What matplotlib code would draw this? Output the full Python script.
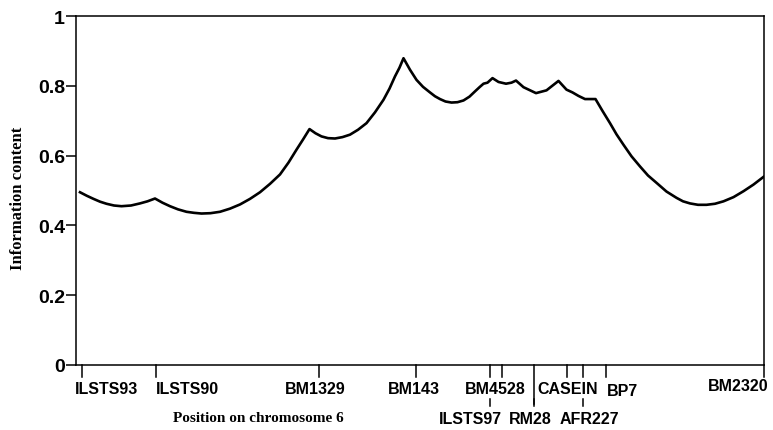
import matplotlib.pyplot as plt

# ───────────────────────────── data ─────────────────────────────
# marker positions along chromosome 6 (cM-like units, ILSTS93 = 0)
MARKERS = ["ILSTS93", "ILSTS90", "BM1329", "BM143", "ILSTS97", "BM4528",
           "RM28", "CASEIN", "AFR227", "BP7", "BM2320"]
MARKER_POS = [0.0, 14.8, 47.4, 66.8, 81.6, 84.0, 90.4, 97.0, 100.2, 104.8, 136.4]
MARKER_ROW = [1, 1, 1, 1, 2, 1, 2, 1, 2, 1, 1]   # label row under the axis

# information content curve
POS = [-0.4, 0.95, 2.3, 3.6, 4.9, 6.4, 7.9, 9.8, 11.6, 13.1, 14.6,
       16.1, 17.6, 19.2, 20.9, 22.4, 23.9, 25.7, 27.6, 29.6, 31.6, 33.6, 35.6,
       37.6, 39.6, 41.3, 42.9, 44.2, 45.5,
       46.7, 47.9, 49.2, 50.6, 52.1, 53.6, 55.2, 56.9, 58.6, 60.3, 61.5, 62.6,
       63.5, 64.3,
       65.6, 66.9, 68.2, 69.6, 70.6, 71.6, 72.7, 73.9, 75.1, 76.3, 77.5, 78.6,
       79.5, 80.3, 81.1, 82.1,
       83.3, 84.8, 85.9, 86.8,
       88.3, 90.8, 92.9, 95.3,
       96.9, 98.1, 99.3, 100.6, 102.7,
       104.1, 105.6, 106.9, 108.3, 109.9, 111.6, 113.2, 114.9, 116.9, 118.9,
       120.2, 121.6, 123.2, 124.9, 126.6, 128.3, 130.3, 132.3, 134.3, 136.3]
INFO = [0.495, 0.485, 0.476, 0.468, 0.462, 0.457, 0.455, 0.457, 0.463, 0.469, 0.477,
        0.465, 0.455, 0.446, 0.439, 0.436, 0.434, 0.435, 0.439, 0.448, 0.460, 0.476, 0.495,
        0.519, 0.546, 0.580, 0.617, 0.646, 0.676,
        0.664, 0.655, 0.650, 0.649, 0.653, 0.660, 0.674, 0.693, 0.724, 0.760, 0.792, 0.827,
        0.852, 0.879,
        0.846, 0.817, 0.797, 0.781, 0.770, 0.762, 0.755, 0.752, 0.753, 0.758, 0.769, 0.784,
        0.796, 0.806, 0.809, 0.822,
        0.811, 0.806, 0.809, 0.815,
        0.796, 0.779, 0.787, 0.814,
        0.789, 0.781, 0.771, 0.762, 0.762,
        0.728, 0.693, 0.661, 0.631, 0.598, 0.569, 0.543, 0.522, 0.497, 0.479,
        0.469, 0.463, 0.459, 0.459, 0.462, 0.469, 0.481, 0.498, 0.517, 0.539]

YTICKS = [0, 0.2, 0.4, 0.6, 0.8, 1]
YTICK_LABELS = ["0", "0.2", "0.4", "0.6", "0.8", "1"]

# ─────────────────────────── layout ────────────────────────────
# label offsets from the marker tick, in pixels (x right, y down)
LABEL_DX = {"ILSTS93": 24, "ILSTS90": 31, "BM1329": -4, "BM143": -2,
            "ILSTS97": -20, "BM4528": -7, "RM28": -4, "CASEIN": 1,
            "AFR227": 6, "BP7": 16, "BM2320": -26}
ROW_DY = {1: 24, 2: 54}
TICK_LEN = {"RM28": 39}          # pixels below the axis, default 12
SANS = ["Liberation Sans", "DejaVu Sans"]
SERIF = ["Liberation Serif", "DejaVu Serif"]

fig = plt.figure(figsize=(7.73, 4.31), dpi=100)
ax = fig.add_axes([76 / 773, 65 / 431, 688 / 773, 349 / 431])

ax.plot(POS, INFO, color="black", lw=1.9, solid_joinstyle="round")
ax.set_xlim(-1.2, 136.4)
ax.set_ylim(0, 1)
ax.set_xticks([])
ax.set_yticks(YTICKS)
ax.set_yticklabels(YTICK_LABELS, family=SANS, fontweight="bold", fontsize=14)
ax.tick_params(axis="y", length=7, width=1.1, pad=1)
for sp in ax.spines.values():
    sp.set_linewidth(1.1)

px = 0.72  # points per pixel at 100 dpi
xt = ax.get_xaxis_transform()
for name, pos, row in zip(MARKERS, MARKER_POS, MARKER_ROW):
    L = TICK_LEN.get(name, 12) / 349
    ax.plot([pos, pos], [0, -L], color="black", lw=1.1, transform=xt,
            clip_on=False)
    if row == 2:
        # short tick under the upper row, pointing at the lower label
        ax.plot([pos, pos], [-34 / 349, -41 / 349], color="black", lw=1.1,
                transform=xt, clip_on=False)
    dy = ROW_DY[row] - (3 if name == "BM2320" else 0) + (2 if name == "BP7" else 0)
    ax.annotate(name, xy=(pos, 0), xycoords=xt,
                xytext=(LABEL_DX[name] * px, -dy * px), textcoords="offset points",
                ha="center", va="center", family=SANS, fontweight="bold",
                fontsize=11.5, annotation_clip=False)

fig.text(18 / 773, 1 - 198 / 431, "Information content", rotation=90,
         ha="center", va="center", family=SERIF, fontweight="bold", fontsize=12)
fig.text(173 / 773, 1 - 419 / 431, "Position on chromosome 6",
         ha="left", va="center", family=SERIF, fontweight="bold", fontsize=11)

fig.savefig("out.png", dpi=100)
